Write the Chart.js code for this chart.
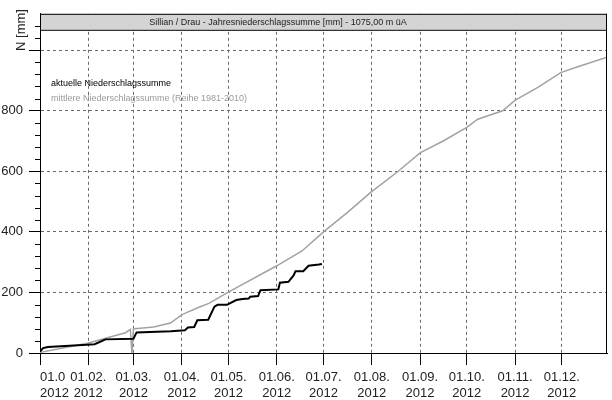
<!DOCTYPE html>
<html>
<head>
<meta charset="utf-8">
<script src="https://cdn.jsdelivr.net/npm/chart.js@4.4.1/dist/chart.umd.min.js"></script>
<style>
  html, body { margin: 0; padding: 0; background: #fff; }
  canvas { display: block; }
</style>
</head>
<body>
<canvas id="rainChart" width="612" height="400"></canvas>
<script>
// day of year (0 = 1 Jan) and cumulative precipitation in mm
const actualDays = [0, 2, 5, 30, 35, 39, 42, 60, 62, 84, 93, 95, 99, 101, 108, 112, 114, 120, 126, 130, 134, 135, 140, 141.5, 153, 154, 159.5, 162.8, 164, 169, 172.4, 179, 181];
const actualMm = [5, 16, 20, 27, 29, 38, 45, 47, 68, 72, 75, 84, 86, 108, 110, 153, 159, 159, 175, 178, 180, 186, 188, 207, 210, 232, 235, 256, 270, 270, 288, 292, 294];

const meanDays = [0, 30.4, 54.9, 58, 59, 60, 62.5, 73, 83.7, 91, 94.4, 102, 108.4, 121.2, 152, 168.2, 182, 198, 212.5, 230, 244, 258.8, 274, 281, 297, 304.9, 319.6, 334.3, 343.3, 364];
const meanMm = [2, 32, 67, 78, 0, 80, 81, 86, 99, 126, 134, 151, 164, 202, 288, 337, 400, 467, 531, 600, 661, 700, 745, 772, 800, 834, 877, 926, 942, 977];

const monthStarts = [0, 31, 60, 91, 121, 152, 182, 213, 244, 274, 305, 335];
const monthLabels = [
  ["01.0", "2012"], ["01.02.", "2012"], ["01.03.", "2012"], ["01.04.", "2012"],
  ["01.05.", "2012"], ["01.06.", "2012"], ["01.07.", "2012"], ["01.08.", "2012"],
  ["01.09.", "2012"], ["01.10.", "2012"], ["01.11.", "2012"], ["01.12.", "2012"],
];
const yTicks = [0, 200, 400, 600, 800, 1000];
const yMinorStep = 40;

const chartTitle = "Sillian / Drau - Jahresniederschlagssumme [mm] - 1075,00 m üA";
const FONT = "'Liberation Sans', Arial, sans-serif";
const GRID = "#6a6a6a";

const toPoints = (xs, ys) => xs.map((x, i) => ({ x: x, y: ys[i] }));

const frame = {
  id: "frame",
  afterDraw(chart) {
    const { ctx, chartArea: a, scales } = chart;
    const y = scales.y;
    ctx.save();

    // minor ticks on the value axis
    ctx.strokeStyle = "#000";
    ctx.lineWidth = 1;
    for (let v = yMinorStep; v < y.max; v += yMinorStep) {
      if (v % 200 === 0) continue;
      const py = Math.round(y.getPixelForValue(v)) + 0.5;
      ctx.beginPath();
      ctx.moveTo(a.left - 5, py);
      ctx.lineTo(a.left, py);
      ctx.stroke();
    }

    // right border
    ctx.beginPath();
    ctx.moveTo(Math.round(a.right) - 0.5, a.top);
    ctx.lineTo(Math.round(a.right) - 0.5, a.bottom);
    ctx.stroke();

    // title bar
    ctx.fillStyle = "#d4d4d4";
    ctx.fillRect(a.left, a.top, a.right - a.left, 16);
    ctx.strokeStyle = "#000";
    ctx.strokeRect(a.left + 0.5, a.top + 0.5, a.right - a.left - 1, 16);
    ctx.fillStyle = "#222";
    ctx.font = "9px " + FONT;
    ctx.textAlign = "center";
    ctx.textBaseline = "middle";
    ctx.fillText(chartTitle, 278, a.top + 8.5);

    // legend
    ctx.textAlign = "left";
    chart.data.datasets.forEach((ds, i) => {
      ctx.fillStyle = ds.legendColor;
      ctx.fillText(ds.label, 51, 84 + i * 15);
    });

    // axis title
    ctx.translate(21, 30);
    ctx.rotate(-Math.PI / 2);
    ctx.fillStyle = "#222";
    ctx.font = "13px " + FONT;
    ctx.textAlign = "center";
    ctx.fillText("N [mm]", 0, 0);
    ctx.restore();
  },
};

new Chart(document.getElementById("rainChart"), {
  type: "line",
  data: {
    datasets: [
      {
        label: "aktuelle Niederschlagssumme",
        data: toPoints(actualDays, actualMm),
        borderColor: "#000",
        legendColor: "#000",
        borderWidth: 2,
        pointRadius: 0,
        tension: 0,
      },
      {
        label: "mittlere Niederschlagssumme (Reihe 1981-2010)",
        data: toPoints(meanDays, meanMm),
        borderColor: "#a2a2a2",
        legendColor: "#9a9a9a",
        borderWidth: 1.5,
        pointRadius: 0,
        tension: 0,
      },
    ],
  },
  options: {
    responsive: false,
    devicePixelRatio: 1,
    animation: false,
    layout: { padding: { top: 8, right: 3, left: 0, bottom: 0 } },
    plugins: {
      legend: { display: false },
      tooltip: { enabled: false },
    },
    scales: {
      x: {
        type: "linear",
        min: 0,
        max: 364,
        afterBuildTicks: (s) => {
          s.ticks = monthStarts.concat(364).map((v) => ({ value: v }));
        },
        afterFit: (s) => { s.height = 47; },
        ticks: {
          align: "inner",
          autoSkip: false,
          maxRotation: 0,
          padding: 5,
          color: "#222",
          font: { family: FONT, size: 13, lineHeight: 1.2 },
          callback: (v, i) => (monthLabels[i] ? monthLabels[i] : ""),
        },
        grid: {
          color: (c) => (c.tick && c.tick.value > 0 && c.tick.value < 364 ? GRID : "transparent"),
          tickColor: (c) => (c.tick && c.tick.value < 364 ? "#000" : "transparent"),
          tickLength: 12,
        },
        border: { color: "#000", width: 1, dash: [3, 3] },
      },
      y: {
        min: 0,
        max: 1120,
        afterBuildTicks: (s) => {
          s.ticks = yTicks.map((v) => ({ value: v }));
        },
        afterFit: (s) => { s.width = 40; },
        ticks: {
          padding: 6,
          color: "#222",
          font: { family: FONT, size: 13 },
          callback: (v) => (v <= 800 ? String(v) : ""),
        },
        grid: {
          color: (c) => (c.tick && c.tick.value > 0 ? GRID : "transparent"),
          tickColor: "#000",
          tickLength: 11,
        },
        border: { color: "#000", width: 1, dash: [3, 3] },
      },
    },
  },
  plugins: [frame],
});
</script>
</body>
</html>
